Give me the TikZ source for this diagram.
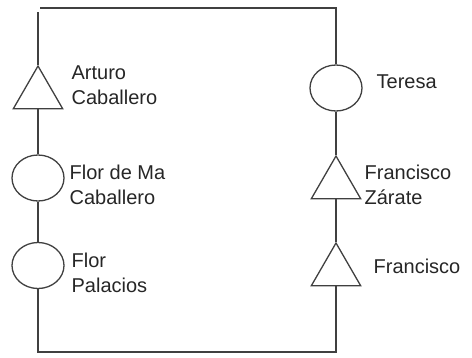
\documentclass[tikz,border=0pt]{standalone}
\usepackage{fontspec}
\setmainfont{Liberation Sans}
\usetikzlibrary{shapes.geometric}
\begin{document}
\begin{tikzpicture}[x=1pt,y=-1pt,line width=1.3pt,draw=black!75,
	every node/.style={draw=black!75,inner sep=0pt},
	man/.style={regular polygon,regular polygon sides=3,minimum size=57pt},
	woman/.style={ellipse,minimum width=52pt,minimum height=46pt},
	who/.style={draw=none,anchor=west,align=left,text=black!85,font=\fontsize{20}{25}\selectfont}]
			\useasboundingbox (0,0) rectangle (472,357);
			%corners
			\coordinate (c1) at (38,12);
			\coordinate (c2) at (40,8);
			\coordinate (c3) at (336,8);
			\coordinate (c4) at (336,352);
			\coordinate (c5) at (38,352);

			%left nodes
			\node[man] (n1) at (38,94.5) {};
			\node[woman] (n2) at (38,178) {};
			\node[woman] (n3) at (38,265.5) {};

			%right nodes
			\node[woman] (n4) at (336,88) {};
			\node[man] (n5) at (336,184.5) {};
			\node[man] (n6) at (336,271.5) {};

			%names
			\node[who] (l1) at (71,85) {Arturo\\Caballero};
			\node[who] (l2) at (69,184.5) {Flor de Ma\\Caballero};
			\node[who] (l3) at (71,272.5) {Flor\\Palacios};
			\node[who] (l4) at (376,82) {Teresa};
			\node[who] (l5) at (364,184.5) {Francisco\\Zárate};
			\node[who] (l6) at (373,266) {Francisco};

			%edges
			\draw (c1) -- (n1) -- (n2) -- (n3) -- (c5) -- (c4) -- (n6) -- (n5) -- (n4) -- (c3) -- (c2);
		\end{tikzpicture}
\end{document}
